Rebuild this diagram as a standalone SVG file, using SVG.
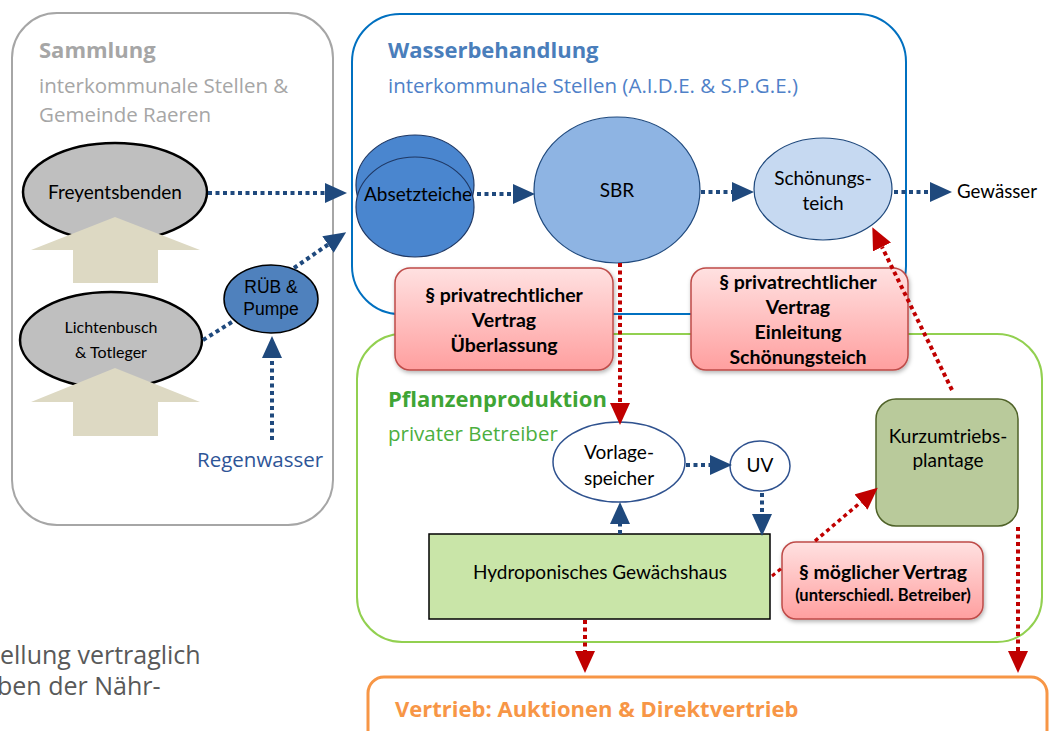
<svg xmlns="http://www.w3.org/2000/svg" width="1050" height="731" viewBox="0 0 1050 731">
<style>
.ttl{font-family:"Open Sans",sans-serif;font-weight:bold;font-size:22px}
.sub{font-family:"Open Sans",sans-serif;font-size:20.5px}
.lbl{font-family:Lato,"Open Sans",sans-serif;font-size:19px;fill:#000;text-anchor:middle}
.arial{font-family:"Liberation Sans",Arial,sans-serif;font-size:17.5px;fill:#000;text-anchor:middle}
.ctr{font-family:Lato,"Open Sans",sans-serif;font-size:19.5px;font-weight:bold;fill:#000;text-anchor:middle}
.blue{fill:none;stroke:#1F497D;stroke-width:4;stroke-dasharray:4 3.5}
.red{fill:none;stroke:#C00000;stroke-width:4;stroke-dasharray:4 3.5}
.contract{fill:url(#pink);stroke:#BE4B48;stroke-width:1.5;filter:url(#sh)}
.beige{fill:#DDD9C3}
.note{font-family:"Open Sans",sans-serif;font-size:25px;fill:#595959}
</style>
<defs>
<linearGradient id="pink" x1="0" y1="0" x2="0" y2="1">
<stop offset="0" stop-color="#FFE1E1"/>
<stop offset="1" stop-color="#FF9F9F"/>
</linearGradient>
<filter id="sh" x="-10%" y="-10%" width="125%" height="130%">
<feDropShadow dx="1" dy="2" stdDeviation="2" flood-color="#000" flood-opacity="0.3"/>
</filter>
<marker id="hb" markerUnits="userSpaceOnUse" markerWidth="22" markerHeight="20" refX="0" refY="10" orient="auto" viewBox="0 0 22 20">
<path d="M0,0 L22,10 L0,20 z" fill="#1F497D"/>
</marker>
<marker id="hr" markerUnits="userSpaceOnUse" markerWidth="22" markerHeight="20" refX="0" refY="10" orient="auto" viewBox="0 0 22 20">
<path d="M0,0 L22,10 L0,20 z" fill="#C00000"/>
</marker>
</defs>
<rect width="1050" height="731" fill="#FFFFFF"/>

<g id="sammlung">
<rect x="12" y="13" width="321" height="512" rx="45" fill="none" stroke="#A6A6A6" stroke-width="2"/>
<text class="ttl" x="39" y="58" fill="#A6A6A6">Sammlung</text>
<text class="sub" x="39" y="93" fill="#A6A6A6">interkommunale Stellen &amp;</text>
<text class="sub" x="39" y="122" fill="#A6A6A6">Gemeinde Raeren</text>
</g>

<g id="wasserbehandlung">
<rect x="352" y="14" width="554" height="300" rx="48" fill="none" stroke="#0070C0" stroke-width="2"/>
<text class="ttl" x="388" y="58" fill="#4A7EBB">Wasserbehandlung</text>
<text class="sub" x="388" y="93" fill="#4F81C8">interkommunale Stellen (A.I.D.E. &amp; S.P.G.E.)</text>
</g>

<g id="pflanzenproduktion">
<rect x="357" y="334" width="685" height="308" rx="45" fill="none" stroke="#92D050" stroke-width="2"/>
<text class="ttl" x="388" y="407" fill="#3FA535">Pflanzenproduktion</text>
<text class="sub" x="388" y="441" fill="#4CAF3F">privater Betreiber</text>
</g>

<g id="vertrieb">
<rect x="368" y="677" width="679" height="120" rx="16" fill="none" stroke="#F79646" stroke-width="3"/>
<text x="395" y="717" font-family="Open Sans,sans-serif" font-weight="bold" font-size="22" fill="#F79646">Vertrieb: Auktionen &amp; Direktvertrieb</text>
</g>

<g id="notiz">
<text class="note" x="0" y="664">ellung vertraglich</text>
<text class="note" x="-3" y="695">ben der Nähr-</text>
</g>

<g id="freyentsbenden">
<ellipse cx="115" cy="192" rx="92" ry="49" fill="#BFBFBF" stroke="#000" stroke-width="2.5"/>
<text class="lbl" x="115" y="199">Freyentsbenden</text>
<polygon class="beige" points="31,250 115,217 200,250 158,250 158,283 73,283 73,250"/>
</g>

<g id="lichtenbusch">
<ellipse cx="111" cy="340" rx="91" ry="48" fill="#BFBFBF" stroke="#000" stroke-width="2.5"/>
<text class="lbl" x="111" y="333" style="font-size:16px">Lichtenbusch</text>
<text class="lbl" x="111" y="358" style="font-size:16px">&amp; Totleger</text>
<polygon class="beige" points="31,402 115,368 200,402 158,402 158,436 73,436 73,402"/>
</g>

<g id="rueb">
<ellipse cx="271" cy="299" rx="47" ry="34" fill="#4F81BD" stroke="#000" stroke-width="1.5"/>
<text class="arial" x="271" y="293">RÜB &amp;</text>
<text class="arial" x="271" y="315">Pumpe</text>
</g>

<g id="regenwasser">
<text x="197" y="467" font-family="Open Sans,sans-serif" font-size="20.5" fill="#2E5597">Regenwasser</text>
</g>

<g id="absetzteiche">
<ellipse cx="415" cy="185" rx="59" ry="50" fill="#4A86CF" stroke="#1F3864" stroke-width="1.2"/>
<ellipse cx="415" cy="207" rx="59" ry="50" fill="#4A86CF" stroke="#1F3864" stroke-width="1.2"/>
<text class="lbl" x="418" y="201">Absetzteiche</text>
</g>

<g id="sbr">
<ellipse cx="617" cy="190" rx="83" ry="73" fill="#8EB4E3" stroke="#1F497D" stroke-width="1.2"/>
<text class="lbl" x="617" y="197">SBR</text>
</g>

<g id="schoenungsteich">
<ellipse cx="823" cy="189" rx="69" ry="51" fill="#C6D9F1" stroke="#1F497D" stroke-width="1.2"/>
<text class="lbl" x="823" y="185">Schönungs-</text>
<text class="lbl" x="823" y="210">teich</text>
</g>

<g id="gewaesser">
<text x="957" y="198" font-family="Lato,sans-serif" font-size="18.7" fill="#000">Gewässer</text>
</g>

<g id="vorlagespeicher">
<ellipse cx="619" cy="462" rx="66" ry="40" fill="#FFFFFF" stroke="#2F528F" stroke-width="1.5"/>
<text class="lbl" x="619" y="459">Vorlage-</text>
<text class="lbl" x="619" y="485">speicher</text>
</g>

<g id="uv">
<ellipse cx="760" cy="466" rx="30" ry="25" fill="#FFFFFF" stroke="#2F528F" stroke-width="1.5"/>
<text class="lbl" x="760" y="472">UV</text>
</g>

<g id="gewaechshaus">
<rect x="429" y="534" width="341" height="85" fill="#C9E5A8" stroke="#000" stroke-width="1.5"/>
<text class="lbl" x="600" y="579">Hydroponisches Gewächshaus</text>
</g>

<g id="kurzumtrieb">
<rect x="876" y="399" width="142" height="127" rx="20" fill="#B9CA9B" stroke="#4F6228" stroke-width="1.5"/>
<text class="lbl" x="948" y="443">Kurzumtriebs-</text>
<text class="lbl" x="948" y="467">plantage</text>
</g>

<g id="vertrag-ueberlassung">
<rect class="contract" x="395" y="268" width="218" height="102" rx="15"/>
<text class="ctr" x="504" y="302">§ privatrechtlicher</text>
<text class="ctr" x="504" y="327">Vertrag</text>
<text class="ctr" x="504" y="352">Überlassung</text>
</g>

<g id="vertrag-einleitung">
<rect class="contract" x="691" y="268" width="217" height="102" rx="15"/>
<text class="ctr" x="798" y="289">§ privatrechtlicher</text>
<text class="ctr" x="798" y="314">Vertrag</text>
<text class="ctr" x="798" y="339">Einleitung</text>
<text class="ctr" x="798" y="364">Schönungsteich</text>
</g>

<g id="vertrag-moeglich">
<rect class="contract" x="782" y="542" width="201" height="77" rx="14"/>
<text class="ctr" x="883" y="579">§ möglicher Vertrag</text>
<text class="ctr" x="883" y="601" style="font-size:16.5px">(unterschiedl. Betreiber)</text>
</g>

<g id="connectors">
<path class="blue" d="M208,193 L325,193" marker-end="url(#hb)"/>
<path class="blue" d="M203,340 L232,322"/>
<path class="blue" d="M294,268 L328,244.6" marker-end="url(#hb)"/>
<path class="blue" d="M272,440 L272,358" marker-end="url(#hb)"/>
<path class="blue" d="M477,194 L513,194" marker-end="url(#hb)"/>
<path class="blue" d="M701,192 L732,192" marker-end="url(#hb)"/>
<path class="blue" d="M894,192 L930,192" marker-end="url(#hb)"/>
<path class="blue" d="M686,465 L710,465" marker-end="url(#hb)"/>
<path class="blue" d="M762,493 L762,514" marker-end="url(#hb)"/>
<path class="blue" d="M620,534 L620,524" marker-end="url(#hb)"/>
<path class="red" d="M620,263 L620,403" marker-end="url(#hr)"/>
<path class="red" d="M952,390 L882,247" marker-end="url(#hr)"/>
<path class="red" d="M585,620 L585,651" marker-end="url(#hr)"/>
<path class="red" d="M1018,527 L1018,651" marker-end="url(#hr)"/>
<path class="red" d="M772,576 L783,567" style="stroke-width:3"/>
<path class="red" d="M815,541 L861,502" style="stroke-width:3.5" marker-end="url(#hr)"/>
</g>
</svg>
